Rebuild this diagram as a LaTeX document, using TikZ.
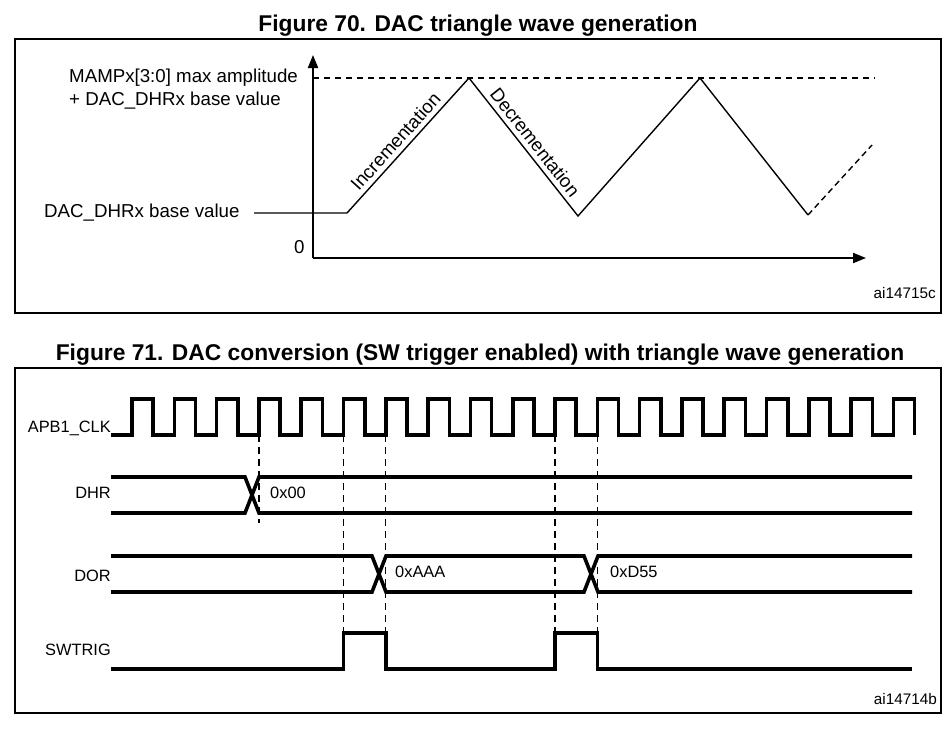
\documentclass[tikz,border=0pt]{standalone}
\usepackage{fontspec}
\setmainfont{Liberation Sans}
\usetikzlibrary{positioning}
\usetikzlibrary{arrows.meta}

\begin{document}
\begin{tikzpicture}[
    x=1pt, y=-1pt,
    frame/.style={line width=1.2pt},
    axis line/.style={line width=2pt, -{Triangle[length=13pt, width=10pt]}},
    wave/.style={line width=1.4pt},
    signal/.style={line width=3.6pt},
    guide/.style={line width=1.3pt, dash pattern=on 7pt off 5pt},
    title/.style={font=\bfseries\fontsize{22.8}{27}\selectfont, inner sep=0pt},
    lbl/.style={font=\fontsize{18.7}{23}\selectfont, inner sep=0pt},
    tlbl/.style={font=\fontsize{16.4}{19}\selectfont, inner sep=0pt},
    ref/.style={font=\fontsize{15.3}{18}\selectfont, inner sep=0pt, anchor=base east}
]
    \useasboundingbox (0,0) rectangle (950,728);

    % Figure 70
    \node[title, anchor=base] (title70) at (478,31.5) {Figure 70. DAC triangle wave generation};
    \draw[frame] (15,39) rectangle (941,313);

    \coordinate (O) at (313,258);
    \draw[axis line] (O) -- (313,55);
    \draw[axis line] (O) -- (866,258);
    \draw[wave, dash pattern=on 6pt off 5pt, line width=1.8pt] (313,78) -- (875,78);

    \coordinate (B0) at (254,213);
    \coordinate (B1) at (347,213);
    \coordinate (P1) at (469,78);
    \coordinate (T1) at (578,216);
    \coordinate (P2) at (700,78);
    \coordinate (T2) at (808,215);
    \coordinate (E) at (872,145);

    \draw[wave] (B0) -- (B1) -- (P1) -- (T1) -- (P2) -- (T2);
    \draw[wave, dash pattern=on 6pt off 4pt] (T2) -- (E);

    \path (B1) -- (P1) node[lbl, sloped, above, pos=0.47, inner sep=5pt] (incr) {Incrementation};
    \path (P1) -- (T1) node[lbl, sloped, above, pos=0.52, inner sep=5pt] (decr) {Decrementation};

    \node[lbl, anchor=base west] (maxl) at (69,82) {MAMPx[3:0] max amplitude};
    \node[lbl, anchor=base west] (maxl2) at (69,105) {+ DAC\_DHRx base value};
    \node[lbl, anchor=base west] (basel) at (44,217) {DAC\_DHRx base value};
    \node[lbl, anchor=base west] (zero) at (294,253) {0};
    \node[ref] (ref70) at (936,298) {ai14715c};

    % Figure 71
    \node[title, anchor=base] (title71) at (480,360) {Figure 71. DAC conversion (SW trigger enabled) with triangle wave generation};
    \draw[frame] (15,368) rectangle (941,713);

    \draw[signal] (111,435)
        \foreach \k in {0,...,18} {
            -- ({132+42.3*\k},435) -- ({132+42.3*\k},399)
            -- ({153.2+42.3*\k},399) -- ({153.2+42.3*\k},435)
        };

    \foreach \k/\yend in {3/523, 5/632, 6/632, 10/632, 11/632}
        \draw[guide] ({132+42.3*\k},435) -- ({132+42.3*\k},\yend);

    % DHR
    \draw[signal] (111,477) -- (245,477) -- (259,513) -- (912,513);
    \draw[signal] (111,513) -- (245,513) -- (259,477) -- (912,477);

    % DOR
    \draw[signal] (111,556) -- (372,556) -- (386,592) -- (584,592) -- (598,556) -- (912,556);
    \draw[signal] (111,592) -- (372,592) -- (386,556) -- (584,556) -- (598,592) -- (912,592);

    % SWTRIG
    \draw[signal] (111,669) -- (343.5,669) -- (343.5,633) -- (385.8,633) -- (385.8,669)
        -- (555,669) -- (555,633) -- (597.3,633) -- (597.3,669) -- (912,669);

    \node[tlbl, anchor=base east] (clkl) at (111,432) {APB1\_CLK};
    \node[tlbl, anchor=base east] (dhrl) at (111,498) {DHR};
    \node[tlbl, anchor=base east] (dorl) at (111,581) {DOR};
    \node[tlbl, anchor=base east] (swl) at (111,655) {SWTRIG};

    \node[tlbl, anchor=base west] (v0) at (270,498) {0x00};
    \node[tlbl, anchor=base west] (v1) at (395,577) {0xAAA};
    \node[tlbl, anchor=base west] (v2) at (610,577) {0xD55};
    \node[ref] (ref71) at (937,704) {ai14714b};

\end{tikzpicture}
\end{document}
